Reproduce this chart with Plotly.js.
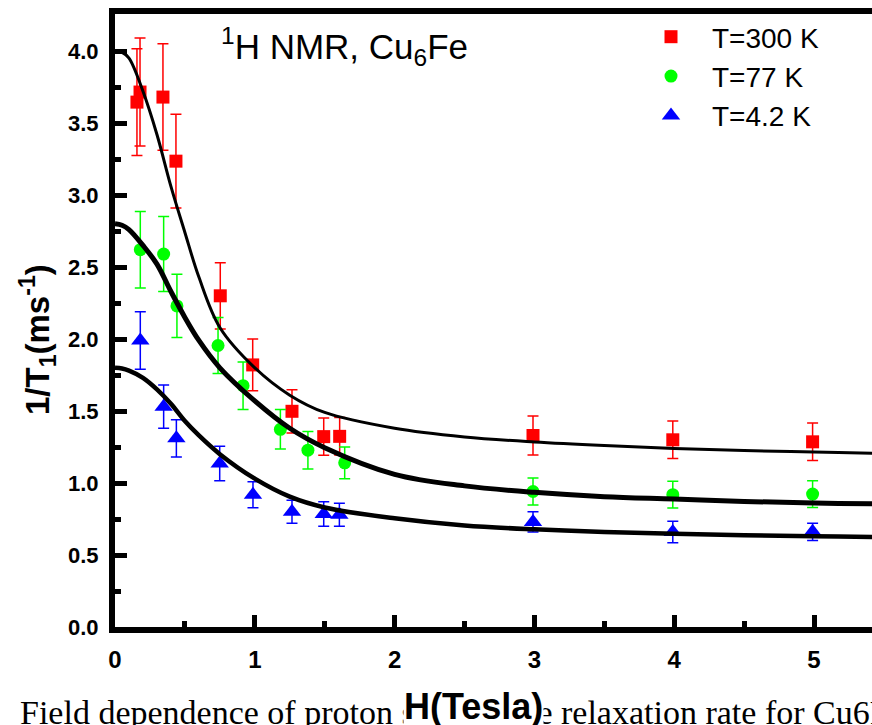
<!DOCTYPE html>
<html>
<head>
<meta charset="utf-8">
<script src="https://cdn.plot.ly/plotly-3.0.1.min.js"></script>
<style>html,body{margin:0;padding:0;background:#fff;overflow:hidden;width:872px;height:725px;}#chart{width:900px;height:725px;}</style>
</head>
<body>
<div id="chart"></div>
<script>
// ---- measured data ----
const H300 = [0.157, 0.179, 0.343, 0.436, 0.753, 0.985, 1.266, 1.493, 1.607, 2.99, 3.99, 4.99];
const R300 = [3.645, 3.715, 3.68, 3.235, 2.30, 1.82, 1.498, 1.322, 1.324, 1.33, 1.30, 1.286];
const E300 = [0.37, 0.375, 0.37, 0.325, 0.23, 0.18, 0.15, 0.13, 0.13, 0.135, 0.13, 0.13];

const H77 = [0.181, 0.348, 0.443, 0.737, 0.916, 1.183, 1.38, 1.643, 2.99, 3.99, 4.99];
const R77 = [2.62, 2.59, 2.23, 1.955, 1.676, 1.373, 1.228, 1.14, 0.941, 0.919, 0.923];
const E77 = [0.265, 0.26, 0.22, 0.195, 0.165, 0.137, 0.13, 0.11, 0.094, 0.093, 0.093];

const H42 = [0.181, 0.348, 0.439, 0.749, 0.987, 1.266, 1.493, 1.605, 2.99, 3.99, 4.99];
const R42 = [1.99, 1.53, 1.31, 1.135, 0.918, 0.80, 0.785, 0.78, 0.73, 0.66, 0.661];
const E42 = [0.2, 0.15, 0.13, 0.12, 0.09, 0.08, 0.085, 0.08, 0.07, 0.075, 0.06];

// ---- fit curves ----
const Hfit   = [0, 0.05, 0.1, 0.2, 0.3, 0.4, 0.5, 0.6, 0.75, 1.0, 1.25, 1.5, 2.0, 2.5, 3.0, 3.5, 4.0, 4.5, 5.0, 5.5, 5.7];
const Fit300 = [4.0, 3.99, 3.95, 3.72, 3.42, 3.06, 2.74, 2.43, 2.08, 1.80, 1.61, 1.49, 1.38, 1.32, 1.285, 1.26, 1.24, 1.225, 1.215, 1.205, 1.20];
const Fit77  = [2.8, 2.79, 2.76, 2.65, 2.52, 2.33, 2.15, 1.99, 1.80, 1.57, 1.38, 1.245, 1.06, 0.98, 0.935, 0.905, 0.889, 0.872, 0.861, 0.854, 0.851];
const Fit42  = [1.80, 1.795, 1.78, 1.73, 1.65, 1.55, 1.43, 1.33, 1.20, 1.03, 0.905, 0.83, 0.755, 0.705, 0.678, 0.66, 0.647, 0.637, 0.63, 0.625, 0.623];

const names = ['T=300 K', 'T=77 K', 'T=4.2 K'];
const colors = ['#ff0000', '#00ff00', '#0000ff'];
const caption = 'Field dependence of proton spin-lattice relaxation rate for Cu6Fe';

// layout is wider than the 872 px window: the frame continues past the right edge, as in the reference
const W = 900, HH = 725;
const L = 115, B = 98, T = 14, Rm = 0;
const pw = W - L - Rm, ph = HH - T - B;
const px2x = p => (p - L) / pw;
const py2y = p => (HH - B - p) / ph;

function pts(x, y, e, name, color, symbol, size) {
  return {
    type: 'scatter', mode: 'markers', x: x, y: y, name: name,
    marker: {color: color, symbol: symbol, size: size, line: {width: 0}},
    error_y: {type: 'data', array: e, visible: true, color: color, thickness: 1.5, width: 5.5},
    cliponaxis: false
  };
}
function fit(y, w) {
  return {type: 'scatter', mode: 'lines', x: Hfit, y: y, showlegend: false,
          line: {color: '#000', width: w, shape: 'spline', smoothing: 1}, hoverinfo: 'skip'};
}

const data = [
  pts(H300, R300, E300, names[0], colors[0], 'square', 13),
  pts(H77, R77, E77, names[1], colors[1], 'circle', 13),
  pts(H42, R42, E42, names[2], colors[2], 'triangle-up', 16),
  fit(Fit300, 3), fit(Fit77, 5), fit(Fit42, 4.5)
];

const yTickFont = {family: 'Liberation Sans, Arial, sans-serif', size: 22, color: '#000', weight: 'bold'};
const xTickFont = {family: 'Liberation Sans Narrow, Liberation Sans, Arial, sans-serif', size: 24, color: '#000', weight: 'bold'};

const layout = {
  width: W, height: HH,
  margin: {l: L, r: Rm, t: T, b: B, pad: 0},
  paper_bgcolor: '#fff', plot_bgcolor: '#fff',
  showlegend: true,
  xaxis: {
    range: [0, pw / 139.8], showgrid: false, zeroline: false,
    showline: true, linecolor: '#000', linewidth: 6, mirror: true,
    ticks: 'inside', ticklen: 12, tickwidth: 5, tickcolor: '#000',
    tick0: 0, dtick: 1, tickfont: xTickFont, ticklabelstandoff: 6,
    minor: {ticks: 'inside', dtick: 0.5, ticklen: 6, tickwidth: 5, tickcolor: '#000', showgrid: false}
  },
  yaxis: {
    range: [0, ph / 144], showgrid: false, zeroline: false,
    showline: true, linecolor: '#000', linewidth: 6, mirror: false,
    ticks: 'inside', ticklen: 12, tickwidth: 5, tickcolor: '#000',
    tick0: 0, dtick: 0.5, tickformat: '.1f', tickfont: yTickFont, ticklabelstandoff: 6,
    minor: {ticks: 'inside', dtick: 0.25, ticklen: 6, tickwidth: 5, tickcolor: '#000', showgrid: false}
  },
  legend: {
    x: px2x(630), y: py2y(12), xanchor: 'left', yanchor: 'top',
    bgcolor: 'rgba(0,0,0,0)', borderwidth: 0,
    font: {family: 'Liberation Sans, Arial, sans-serif', size: 28, color: '#000'},
    itemwidth: 72, tracegroupgap: 0
  },
  annotations: [
    {text: caption, xref: 'paper', yref: 'paper',
     x: px2x(18), y: py2y(692), xanchor: 'left', yanchor: 'top', showarrow: false,
     font: {family: 'Liberation Serif, Times New Roman, serif', size: 34, color: '#000'}},
    {text: '<sup>1</sup>H NMR, Cu<sub>6</sub>Fe', xref: 'paper', yref: 'paper',
     x: px2x(219), y: py2y(46), xanchor: 'left', yanchor: 'middle', showarrow: false,
     font: {family: 'Liberation Sans, Arial, sans-serif', size: 35, color: '#000'}},
    {text: 'H(Tesla)', xref: 'paper', yref: 'paper',
     x: px2x(473), y: py2y(706), xanchor: 'center', yanchor: 'middle', showarrow: false,
     bgcolor: '#fff', borderpad: 0,
     font: {family: 'Liberation Sans, Arial, sans-serif', size: 36, color: '#000', weight: 'bold'}},
    {text: '1/T<sub>1</sub>(ms<sup>-1</sup>)', xref: 'paper', yref: 'paper', textangle: -90,
     x: px2x(37), y: py2y(340), xanchor: 'center', yanchor: 'middle', showarrow: false,
     font: {family: 'Liberation Sans, Arial, sans-serif', size: 33, color: '#000', weight: 'bold'}}
  ]
};

Plotly.newPlot('chart', data, layout, {displayModeBar: false, staticPlot: true});
</script>
</body>
</html>
